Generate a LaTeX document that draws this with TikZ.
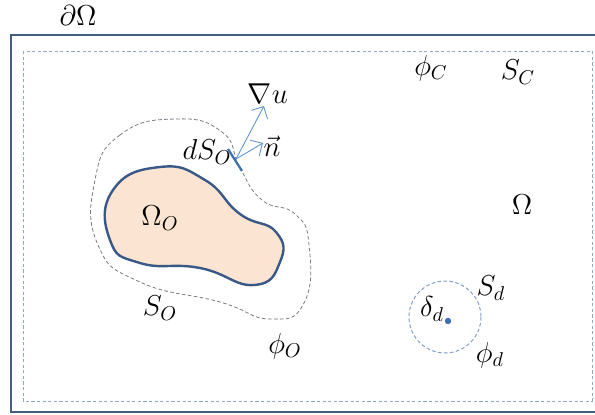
\documentclass[tikz,border=0pt]{standalone}
\usepackage{amsmath,amssymb}
\usepackage{xcolor}
\usepackage{tikz}
\usetikzlibrary{arrows.meta,positioning,calc}
\definecolor{frameblue}{RGB}{68,94,128}
\definecolor{innerdash}{RGB}{140,168,205}
\definecolor{bodyfill}{RGB}{251,229,210}
\definecolor{bodyline}{RGB}{58,88,135}
\definecolor{surfgray}{RGB}{120,122,132}
\definecolor{arrowblue}{RGB}{95,150,205}
\definecolor{patchblue}{RGB}{60,110,180}
\definecolor{dropblue}{RGB}{130,160,200}

\begin{document}
\begin{tikzpicture}[
    x=0.5pt, y=-0.5pt,
    every node/.style={font=\fontsize{14}{16}\selectfont, inner sep=1pt},
    domainframe/.style={draw=frameblue, line width=1pt},
    controlsurf/.style={draw=innerdash, dash pattern=on 1.6pt off 1.2pt, line width=0.4pt},
    bodyshape/.style={draw=bodyline, fill=bodyfill, line width=1.2pt},
    bodysurf/.style={draw=surfgray, dash pattern=on 1.8pt off 1.2pt, line width=0.4pt},
    dropsurf/.style={draw=dropblue, dash pattern=on 1.8pt off 1.2pt, line width=0.5pt},
    vecarr/.style={-{Straight Barb[length=1.6mm]}, draw=arrowblue, line width=0.45pt},
    patch/.style={draw=patchblue, line width=1.1pt}
]
\useasboundingbox (0,0) rectangle (595,414);

% Domain and control surface
\draw[domainframe] (11,35) rectangle (602,412);
\draw[controlsurf] (23,51) rectangle (592,401);

% Body and surrounding surface
\draw[bodysurf] plot[smooth cycle, tension=0.85] coordinates {
    (175,119) (120,135) (95,180) (98,245) (140,282) (220,302)
    (270,319) (304,303) (309,245) (295,214) (262,200) (240,168) (222,132)};
\draw[bodyshape] plot[smooth cycle, tension=0.85] coordinates {
    (160,167) (205,180) (240,214) (276,232) (280,262) (254,285)
    (200,268) (140,263) (110,240) (113,190)};

% Surface element and vectors
\coordinate (patchA) at (228,149);
\coordinate (patchB) at (242,171);
\coordinate (dsmid) at (236,159);
\coordinate (gradtip) at (264,106);
\coordinate (normtip) at (263,143);
\draw[patch] (patchA) -- (patchB);
\draw[vecarr] (dsmid) -- (gradtip);
\draw[vecarr] (dsmid) -- (normtip);

% Droplet
\draw[dropsurf] (445,317) circle (36);
\fill[patchblue] (448,321) circle (3.2);

% Labels
\node (dOmega) at (78,15) {$\partial\Omega$};
\node (phiC) at (431,68) {$\phi_C$};
\node (SC) at (518,72) {$S_C$};
\node (gradu) at (268,94) {$\nabla u$};
\node (nvec) at (272,146) {$\vec{n}$};
\node (dSO) at (207,152) {$dS_O$};
\node (OmegaO) at (160,218) {$\Omega_O$};
\node (Omega) at (522,205) {$\Omega$};
\node (SO) at (160,308) {$S_O$};
\node (phiO) at (285,346) {$\phi_O$};
\node (deltad) at (432,309) {$\delta_d$};
\node (Sd) at (491,288) {$S_d$};
\node (phid) at (490,355) {$\phi_d$};

\end{tikzpicture}
\end{document}
